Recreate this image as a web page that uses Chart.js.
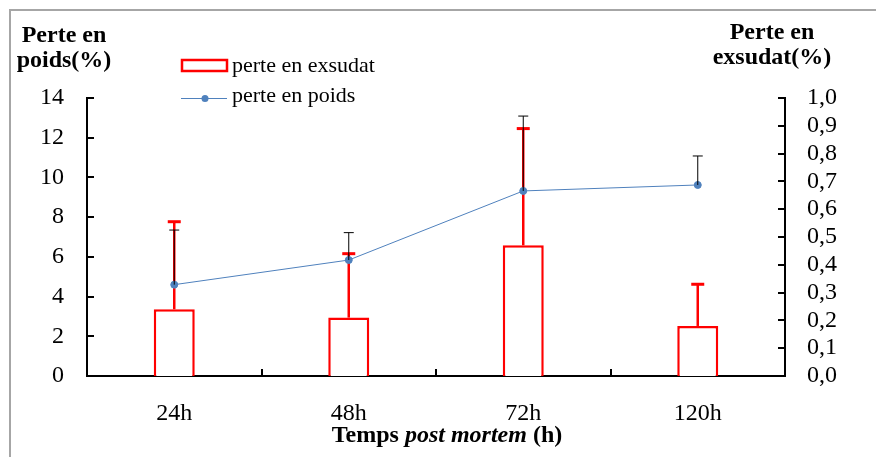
<!DOCTYPE html>
<html lang="fr">
<head>
<meta charset="utf-8">
<title>Perte en poids / perte en exsudat</title>
<script src="https://cdn.jsdelivr.net/npm/chart.js@4/dist/chart.umd.min.js"></script>
<style>
  html, body { margin: 0; padding: 0; background: #fff; }
  #wrap { position: relative; width: 876px; height: 457px; }
</style>
</head>
<body>
<div id="wrap"><canvas id="chart" width="876" height="457"></canvas></div>
<script>
// data
const categories = ['24h', '48h', '72h', '120h'];
const exsudatMeans = [0.24, 0.21, 0.47, 0.18];      // right axis (%)
const exsudatErrors = [0.315, 0.23, 0.42, 0.15];
const poidsMeans = [4.6, 5.84, 9.32, 9.62];         // left axis (%)
const poidsErrors = [2.75, 1.38, 3.77, 1.46];
const leftTicks = [0, 2, 4, 6, 8, 10, 12, 14];
const rightTicks = [0, 0.1, 0.2, 0.3, 0.4, 0.5, 0.6, 0.7, 0.8, 0.9, 1.0];

(function () {
  'use strict';

  const FONT = "'Liberation Serif', 'Times New Roman', serif";
  const RED = '#ff0000';
  const BLUE = '#4f81bd';

  Chart.defaults.font.family = FONT;
  Chart.defaults.font.size = 24;
  Chart.defaults.color = '#000';

  // =================================================
  // PLUGINS
  // =================================================

  /** Upper error bars, drawn right after the dataset they belong to. */
  const errorBars = {
    id: 'errorBars',
    afterDatasetDraw(chart, args) {
      const ds = chart.data.datasets[args.index];
      if (!ds.errors) return;
      const scale = chart.scales[ds.yAxisID];
      const ctx = chart.ctx;
      ctx.save();
      ctx.strokeStyle = ds.errorColor;
      args.meta.data.forEach((el, i) => {
        const x = el.x;
        const yBase = scale.getPixelForValue(ds.data[i]);
        const yTop = scale.getPixelForValue(ds.data[i] + ds.errors[i]);
        ctx.lineWidth = ds.errorWidth;
        ctx.beginPath();
        ctx.moveTo(x, yBase);
        ctx.lineTo(x, yTop);
        ctx.stroke();
        ctx.lineWidth = ds.errorCapWidth;
        ctx.beginPath();
        ctx.moveTo(x - ds.errorCap / 2, yTop);
        ctx.lineTo(x + ds.errorCap / 2, yTop);
        ctx.stroke();
      });
      ctx.restore();
    }
  };

  /** Frame, inward tick marks, axis titles and the legend. */
  const decorations = {
    id: 'decorations',
    beforeDraw(chart) {
      const ctx = chart.ctx;
      ctx.save();
      ctx.strokeStyle = '#a6a6a6';
      ctx.lineWidth = 2;
      ctx.strokeRect(10, 10, 2000, 2000);
      ctx.restore();
    },
    afterDraw(chart) {
      const ctx = chart.ctx;
      const { x, y, y1 } = chart.scales;
      const area = chart.chartArea;
      ctx.save();
      ctx.strokeStyle = '#000';
      ctx.lineWidth = 2;

      // tick marks point into the plot
      ctx.beginPath();
      leftTicks.forEach(v => {
        const py = Math.round(y.getPixelForValue(v));
        ctx.moveTo(area.left, py);
        ctx.lineTo(area.left + 7, py);
      });
      rightTicks.forEach(v => {
        const py = Math.round(y1.getPixelForValue(v));
        ctx.moveTo(area.right, py);
        ctx.lineTo(area.right - 7, py);
      });
      for (let i = 1; i < categories.length; i++) {
        const px = Math.round((x.getPixelForValue(i - 1) + x.getPixelForValue(i)) / 2);
        ctx.moveTo(px, area.bottom);
        ctx.lineTo(px, area.bottom - 7);
      }
      ctx.stroke();

      // axis titles
      ctx.fillStyle = '#000';
      ctx.textAlign = 'center';
      ctx.textBaseline = 'alphabetic';
      ctx.font = 'bold 24px ' + FONT;
      ctx.fillText('Perte en', 64, 42);
      ctx.fillText('poids(%)', 64, 67);
      ctx.fillText('Perte en', 772, 39);
      ctx.fillText('exsudat(%)', 772, 64);

      // x title with italic middle part
      const parts = [
        ['Temps ', 'bold 24px '],
        ['post mortem', 'italic bold 24px '],
        [' (h)', 'bold 24px ']
      ];
      let total = 0;
      parts.forEach(p => { ctx.font = p[1] + FONT; total += ctx.measureText(p[0]).width; });
      let cx = 447 - total / 2;
      ctx.textAlign = 'left';
      parts.forEach(p => {
        ctx.font = p[1] + FONT;
        ctx.fillText(p[0], cx, 442);
        cx += ctx.measureText(p[0]).width;
      });

      // legend
      const bar = chart.data.datasets[0];
      const line = chart.data.datasets[1];
      ctx.lineWidth = 2.5;
      ctx.strokeStyle = bar.borderColor;
      ctx.fillStyle = '#fff';
      ctx.fillRect(182, 60, 45, 11);
      ctx.strokeRect(182, 60, 45, 11);
      ctx.lineWidth = 1;
      ctx.strokeStyle = line.borderColor;
      ctx.beginPath();
      ctx.moveTo(181, 98.5);
      ctx.lineTo(227, 98.5);
      ctx.stroke();
      ctx.fillStyle = line.pointBackgroundColor;
      ctx.beginPath();
      ctx.arc(205, 98.5, 3.5, 0, Math.PI * 2);
      ctx.fill();
      ctx.fillStyle = '#000';
      ctx.font = '22px ' + FONT;
      ctx.fillText(bar.label, 232, 72);
      ctx.fillText(line.label, 232, 102);
      ctx.restore();
    }
  };

  // =================================================
  // CHART
  // =================================================

  const fmtComma = v => v.toFixed(1).replace('.', ',');

  new Chart(document.getElementById('chart'), {
    data: {
      labels: categories,
      datasets: [
        {
          type: 'bar',
          label: 'perte en exsudat',
          data: exsudatMeans,
          errors: exsudatErrors,
          errorColor: RED,
          errorWidth: 2.5,
          errorCap: 13,
          errorCapWidth: 3,
          yAxisID: 'y1',
          backgroundColor: '#fff',
          borderColor: RED,
          borderWidth: 2.5,
          borderSkipped: 'start',
          categoryPercentage: 1,
          barPercentage: 0.235,
          order: 2
        },
        {
          type: 'line',
          label: 'perte en poids',
          data: poidsMeans,
          errors: poidsErrors,
          errorColor: '#000',
          errorWidth: 1,
          errorCap: 10,
          errorCapWidth: 1,
          yAxisID: 'y',
          borderColor: BLUE,
          borderWidth: 1,
          pointBackgroundColor: BLUE,
          pointBorderColor: BLUE,
          pointRadius: 3.5,
          tension: 0,
          order: 1
        }
      ]
    },
    options: {
      responsive: false,
      animation: false,
      layout: { padding: { top: 98, left: 0, right: 0, bottom: 0 } },
      plugins: { legend: { display: false }, tooltip: { enabled: false } },
      scales: {
        x: {
          grid: { display: false, drawTicks: false, tickLength: 0 },
          border: { display: true, color: '#000', width: 2 },
          ticks: { padding: 23, maxRotation: 0, autoSkip: false },
          afterFit(scale) { scale.height = 81; }
        },
        y: {
          position: 'left',
          min: 0,
          max: 14,
          afterBuildTicks(scale) { scale.ticks = leftTicks.map(v => ({ value: v })); },
          grid: { display: false, drawTicks: false, tickLength: 0 },
          border: { display: true, color: '#000', width: 2 },
          ticks: { padding: 23, autoSkip: false },
          afterFit(scale) { scale.width = 87; }
        },
        y1: {
          position: 'right',
          min: 0,
          max: 1,
          afterBuildTicks(scale) { scale.ticks = rightTicks.map(v => ({ value: v })); },
          grid: { display: false, drawTicks: false, tickLength: 0 },
          border: { display: true, color: '#000', width: 2 },
          ticks: { padding: 22, autoSkip: false, callback: v => fmtComma(v) },
          afterFit(scale) { scale.width = 91; }
        }
      }
    },
    plugins: [errorBars, decorations]
  });
})();
</script>
</body>
</html>
